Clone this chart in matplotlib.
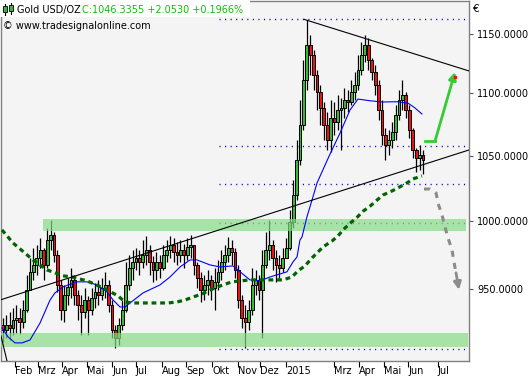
import matplotlib
matplotlib.use("Agg")
import matplotlib.pyplot as plt
import numpy as np
from matplotlib.patches import Rectangle
from matplotlib.ticker import FixedLocator, NullLocator, FuncFormatter

# Gold in EUR, one candle per 3 trading days, x = trading days since 2014-02-03
first_open = 925.0
close = [921.4, 924.8, 922.8, 928.3, 929.7, 926.9, 935.3, 949.5, 962.4, 967.4,
         972.5, 978.3, 967.4, 985.6, 989.4, 974.7, 953.0, 935.3, 945.9, 951.6,
         956.6, 945.9, 938.8, 933.9, 942.3, 935.3, 943.7, 948.0, 945.9, 950.9,
         953.0, 938.8, 921.4, 915.9, 924.8, 935.3, 953.0, 965.2, 969.6, 972.5,
         969.6, 974.7, 978.3, 969.6, 963.8, 969.6, 965.2, 974.7, 978.3, 982.0,
         976.8, 974.7, 978.3, 974.7, 980.5, 982.0, 967.4, 958.0, 949.5, 953.0,
         956.6, 950.9, 955.2, 962.4, 969.6, 974.7, 979.8, 976.8, 963.8, 942.3,
         929.7, 926.9, 935.3, 953.0, 956.6, 949.5, 967.4, 978.3, 982.0, 972.5,
         967.4, 965.2, 972.5, 979.8, 999.0, 1019.5, 1046.5, 1074.3, 1111.1, 1140.7,
         1132.2, 1115.3, 1101.2, 1088.1, 1074.3, 1062.3, 1079.9, 1076.7, 1086.4, 1088.1,
         1094.6, 1093.0, 1101.2, 1107.0, 1119.5, 1132.2, 1140.7, 1127.9, 1117.8, 1107.0,
         1086.4, 1066.3, 1058.4, 1062.3, 1068.7, 1082.4, 1094.6, 1098.7, 1086.4, 1070.3,
         1054.4, 1048.1, 1050.4, 1046.3]
high = [929.7, 931.8, 933.9, 936.7, 938.8, 936.7, 942.3, 960.2, 972.5, 979.8,
        982.0, 987.1, 979.8, 994.5, 1000.5, 991.5, 978.3, 956.6, 953.0, 958.0,
        965.2, 960.2, 949.5, 945.9, 950.9, 945.2, 950.9, 954.4, 956.6, 958.0,
        962.4, 956.6, 942.3, 924.8, 929.7, 942.3, 969.6, 974.7, 978.3, 979.8,
        978.3, 985.6, 988.6, 982.0, 973.9, 976.8, 974.7, 982.0, 985.6, 988.6,
        987.1, 984.1, 985.6, 982.7, 987.1, 989.4, 982.0, 969.6, 962.4, 960.2,
        963.8, 960.2, 965.2, 971.0, 978.3, 982.0, 987.9, 985.6, 979.8, 967.4,
        945.9, 938.8, 942.3, 965.2, 963.8, 960.2, 978.3, 991.5, 1000.5, 985.6,
        978.3, 974.7, 979.8, 987.1, 1008.0, 1031.0, 1062.3, 1094.6, 1127.9, 1162.2,
        1149.3, 1136.5, 1119.5, 1107.0, 1093.0, 1084.8, 1094.6, 1093.0, 1098.7, 1096.2,
        1104.5, 1102.8, 1111.1, 1117.8, 1132.2, 1143.3, 1149.3, 1146.7, 1129.6, 1123.7,
        1111.1, 1094.6, 1071.9, 1070.3, 1076.7, 1090.5, 1102.8, 1111.1, 1101.2, 1090.5,
        1071.9, 1056.0, 1058.4, 1054.4]
low = [913.1, 915.9, 914.5, 917.9, 919.3, 918.6, 922.8, 933.9, 949.5, 956.6,
       960.2, 965.2, 956.6, 965.2, 978.3, 969.6, 948.0, 928.3, 926.9, 938.8,
       943.7, 938.8, 928.3, 917.9, 929.7, 917.9, 931.8, 936.7, 938.8, 942.3,
       943.7, 933.9, 915.9, 909.1, 911.1, 921.4, 933.9, 949.5, 956.6, 963.8,
       960.2, 965.2, 967.4, 960.2, 955.2, 956.6, 958.0, 963.8, 969.6, 972.5,
       969.6, 967.4, 969.6, 965.2, 971.0, 972.5, 960.2, 950.9, 940.9, 942.3,
       945.9, 942.3, 935.3, 949.5, 956.6, 963.8, 969.6, 967.4, 958.0, 936.7,
       922.8, 909.1, 921.4, 931.8, 945.9, 942.3, 915.9, 965.2, 971.0, 963.8,
       955.2, 958.0, 962.4, 972.5, 978.3, 994.5, 1015.6, 1042.6, 1070.3, 1102.8,
       1115.3, 1102.8, 1086.4, 1074.3, 1062.3, 1054.4, 1052.8, 1066.3, 1070.3, 1054.4,
       1079.9, 1084.8, 1090.5, 1094.6, 1102.8, 1115.3, 1126.2, 1119.5, 1111.1, 1098.7,
       1078.3, 1058.4, 1046.5, 1050.4, 1056.0, 1062.3, 1078.3, 1086.4, 1079.9, 1063.9,
       1048.1, 1037.2, 1038.8, 1035.4]

# moving averages (blue thin, green dashed)
ma_fast_x = [-11.6, -6.3, -0.2, 6.0, 13.0, 21.8, 30.6, 34.9, 42.0, 54.3,
             63.0, 71.8, 80.6, 85.9, 92.0, 96.4, 100.8, 112.2, 127.1, 135.9,
             144.7, 153.5, 159.6, 171.0, 179.8, 191.2, 197.4, 206.1, 214.9, 223.7,
             238.6, 243.9, 247.4, 250.0, 251.8, 256.2, 260.6, 265.0, 276.4, 285.2,
             293.9, 300.9, 311.5, 322.9, 335.2, 344.8, 351.0, 357.1]
ma_fast = [922.8, 916.6, 912.5, 912.5, 914.5, 926.2, 942.3, 947.3, 951.6, 955.2,
           955.2, 953.0, 948.0, 942.3, 937.4, 937.4, 940.2, 947.3, 953.0, 958.7,
           965.9, 971.0, 971.0, 967.4, 965.9, 966.7, 962.4, 956.6, 955.9, 958.7,
           962.4, 969.6, 973.2, 985.6, 987.9, 1003.1, 1015.6, 1028.7, 1051.2, 1067.9,
           1086.4, 1095.4, 1094.0, 1093.0, 1093.2, 1092.1, 1088.1, 1083.2]
ma_slow_x = [-11.6, -1.9, 4.2, 15.6, 27.9, 42.0, 49.9, 63.0, 77.1, 90.3,
             96.4, 103.4, 118.3, 134.2, 142.0, 149.1, 156.1, 164.0, 175.4, 182.4,
             190.3, 206.1, 221.0, 235.1, 243.0, 248.3, 254.4, 260.6, 265.0, 270.2,
             278.2, 283.4, 287.8, 293.9, 300.1, 305.4, 311.5, 317.7, 322.9, 330.8,
             336.1, 344.0, 349.3, 357.1]
ma_slow = [993.1, 983.4, 979.1, 971.0, 963.8, 959.5, 958.7, 955.9, 950.9, 945.2,
           940.9, 940.2, 940.2, 940.2, 940.9, 942.3, 944.4, 946.6, 950.9, 953.0,
           955.2, 956.6, 956.6, 956.6, 958.7, 963.1, 966.7, 972.5, 976.1, 980.5,
           984.9, 988.6, 993.1, 998.0, 1002.5, 1007.1, 1010.9, 1015.6, 1019.4, 1022.5,
           1024.9, 1028.7, 1031.8, 1034.1]

# drawn annotations
zones = [(992.5, 1001.0, 24.4, 395.8), (909.5, 919.3, -12.5, 397.6)]
levels = [1162.8, 1057.8, 1027.7, 998.0, 908.4]
levels_x = (178.9, 395.8)
trend_up_x, trend_up_y = [-12.5, 398.4], [942.5, 1054.4]
trend_dn_x, trend_dn_y = [253.6, 398.4], [1162.8, 1118.7]
stub_x, stub_y = [-12.5, -7.2], [917.3, 900.2]
up_arrow_x = [359.8, 368.6, 386.1]
up_arrow_y = [1061.5, 1061.5, 1117.8]
dn_arrow_x = [358.9, 364.2, 369.5, 371.2, 374.7, 377.3, 380.0, 383.5, 385.2, 387.0, 389.6]
dn_arrow_y = [1024.0, 1024.0, 1020.9, 1013.1, 1004.3, 995.3, 987.1, 978.3, 969.6, 961.7, 949.5]

month_pos = [0, 20, 41, 63, 85, 106, 129, 150, 173, 196, 215, 238, 280, 302, 324, 345, 371]
month_lab = ["Feb", "Mrz", "Apr", "Mai", "Jun", "Jul", "Aug", "Sep", "Okt", "Nov",
             "Dez", "2015", "Mrz", "Apr", "Mai", "Jun", "Jul"]
price_ticks = [950, 1000, 1050, 1100, 1150]

W, H = 529, 380
fig = plt.figure(figsize=(W / 100, H / 100), dpi=100)
fig.patch.set_facecolor("white")
ax = fig.add_axes([1 / W, 19 / H, 468 / W, 360 / H])
ax.set_facecolor("#f4f4f4")
ax.set_yscale("log")
ax.set_xlim(-12.47, 398.4)
ax.set_ylim(900.2, 1178.9)

# candles
bar_x = np.arange(len(close)) * 3 - 11
c = np.array(close)
o = np.array([first_open] + close[:-1])
cols = np.where(c >= o, "#33bb33", "#ee1111")
ax.vlines(bar_x, low, high, color="black", lw=0.9, zorder=2)
ax.bar(bar_x, np.maximum(np.abs(c - o), 0.8), bottom=np.minimum(o, c), width=2.5,
       color=cols, edgecolor="black", linewidth=0.7, zorder=2.2)

# support / resistance zones over candles
for lo, hi, x0, x1 in zones:
    ax.add_patch(Rectangle((x0, lo), x1 - x0, hi - lo, facecolor="#87dd87",
                           edgecolor="none", alpha=0.7, zorder=3))

for lv in levels:
    ax.plot(levels_x, [lv, lv], color="#0000cc", lw=1, ls=(0, (0.8, 3.2)), zorder=1.5)

ax.plot(ma_fast_x, ma_fast, color="#0000ff", lw=0.8, zorder=4)
ax.plot(ma_slow_x, ma_slow, color="#006400", lw=2.3, ls=(0, (1.5, 1.2)),
        dash_capstyle="butt", zorder=4)

ax.plot(trend_up_x, trend_up_y, color="black", lw=0.8, zorder=4)
ax.plot(trend_dn_x, trend_dn_y, color="black", lw=0.8, zorder=4)
ax.plot(stub_x, stub_y, color="black", lw=0.8, zorder=4)

# scenario arrows
ax.plot(up_arrow_x[:2], up_arrow_y[:2], color="#33cc33", lw=2, zorder=5)
ax.annotate("", xy=(up_arrow_x[2], up_arrow_y[2]), xytext=(up_arrow_x[1], up_arrow_y[1]),
            arrowprops=dict(arrowstyle="-|>", color="#33cc33", lw=2, mutation_scale=11,
                            shrinkA=0, shrinkB=0), zorder=5)
ax.plot(up_arrow_x[2], up_arrow_y[2] - 4, marker="s", ms=1.5, color="#ee1111", zorder=6)
ax.plot(dn_arrow_x[:-1], dn_arrow_y[:-1], color="#8c8c8c", lw=2.2, ls=(0, (2, 2)),
        dash_capstyle="butt", zorder=5)
ax.annotate("", xy=(dn_arrow_x[-1], dn_arrow_y[-1]), xytext=(dn_arrow_x[-2], dn_arrow_y[-2]),
            arrowprops=dict(arrowstyle="-|>", color="#8c8c8c", lw=2, mutation_scale=11,
                            shrinkA=0, shrinkB=0), zorder=5)

# axes
for s in ax.spines.values():
    s.set_color("#808080")
    s.set_linewidth(1)
ax.yaxis.tick_right()
ax.yaxis.set_major_locator(FixedLocator(price_ticks))
ax.yaxis.set_minor_locator(NullLocator())
ax.yaxis.set_major_formatter(FuncFormatter(lambda v, p: f"{v:.4f}"))
ax.tick_params(axis="y", length=3, width=0.8, color="#555555", pad=3, labelsize=7)
ax.set_xticks(month_pos)
ax.set_xticklabels(month_lab)
ax.tick_params(axis="x", length=4.5, width=0.8, color="black", pad=-1, labelsize=7)
for lab in ax.get_xticklabels():
    lab.set_horizontalalignment("left")

# header
fig.patches.append(Rectangle((0, 1 - 17 / H), 250 / W, 17 / H, transform=fig.transFigure,
                             facecolor="white", edgecolor="none", zorder=10))
for cx, top, bot in [(5, 4, 15), (11, 3, 14)]:
    fig.lines.append(plt.Line2D([cx / W, cx / W], [1 - top / H, 1 - bot / H],
                                transform=fig.transFigure, color="black", lw=0.8, zorder=11))
    fig.patches.append(Rectangle(((cx - 2) / W, 1 - (bot - 3) / H), 4 / W, 6 / H,
                                 transform=fig.transFigure, facecolor="#33bb33",
                                 edgecolor="black", lw=0.6, zorder=12))
fig.text(17 / W, 1 - 10 / H, "Gold USD/OZ", fontsize=7, va="center", zorder=13)
fig.text(82 / W, 1 - 10 / H, "C:1046.3355 +2.0530 +0.1966%", fontsize=7, va="center",
         color="#11bb11", zorder=13)
fig.text(3 / W, 1 - 26 / H, "© www.tradesignalonline.com", fontsize=7, va="center", zorder=13)
fig.text(473 / W, 1 - 9 / H, "€", fontsize=7.5, va="center")

fig.savefig("out.png", dpi=100)
